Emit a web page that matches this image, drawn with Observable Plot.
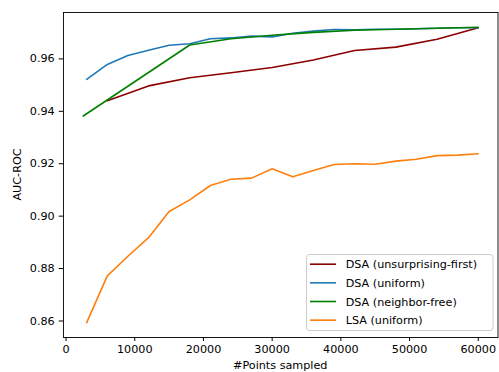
<!DOCTYPE html>
<html>
<head>
<meta charset="utf-8">
<script src="https://cdn.jsdelivr.net/npm/d3@7"></script>
<script src="https://cdn.jsdelivr.net/npm/@observablehq/plot@0.6"></script>
<style>
  html, body { margin: 0; padding: 0; background: #fff; }
  #chart { width: 499px; height: 372px; overflow: hidden; }
</style>
</head>
<body>
<div id="chart"></div>
<script>
const seriesNames = ["DSA (unsurprising-first)", "DSA (uniform)", "DSA (neighbor-free)", "LSA (uniform)"];
const seriesColors = ["#8b0000", "#1f77b4", "#008000", "#ff7f0e"];

const xUnsurprising = [6000, 12000, 18000, 24000, 30000, 36000, 42000, 48000, 54000, 60000];
const yUnsurprising = [0.9440, 0.9497, 0.9528, 0.9547, 0.9567, 0.9596, 0.9632, 0.9645, 0.9675, 0.9719];

const xUniform = [3000, 6000, 9000, 12000, 15000, 18000, 21000, 24000, 27000, 30000, 33000, 36000, 39000, 42000, 45000, 48000, 51000, 54000, 57000, 60000];
const yUniform = [0.9522, 0.9579, 0.9613, 0.9633, 0.9652, 0.9658, 0.9677, 0.9680, 0.9687, 0.9684, 0.9698, 0.9706, 0.9712, 0.9711, 0.9713, 0.9713, 0.9715, 0.9717, 0.9719, 0.9719];

const xNeighborFree = [2500, 18000, 24000, 30000, 36000, 42000, 48000, 54000, 60000];
const yNeighborFree = [0.9382, 0.9653, 0.9677, 0.9690, 0.9701, 0.9709, 0.9713, 0.9717, 0.9721];

const xLSA = [3000, 6000, 9000, 12000, 15000, 18000, 21000, 24000, 27000, 30000, 33000, 36000, 39000, 42000, 45000, 48000, 51000, 54000, 57000, 60000];
const yLSA = [0.8594, 0.8772, 0.8847, 0.8918, 0.9018, 0.9062, 0.9117, 0.9141, 0.9145, 0.9181, 0.9150, 0.9174, 0.9197, 0.9200, 0.9198, 0.9210, 0.9217, 0.9231, 0.9233, 0.9238];

const xTicks = [0, 10000, 20000, 30000, 40000, 50000, 60000];
const yTicks = [0.86, 0.88, 0.90, 0.92, 0.94, 0.96];

const xLabel = "#Points sampled";
const yLabel = "AUC-ROC";

const seriesXs = [xUnsurprising, xUniform, xNeighborFree, xLSA];
const seriesYs = [yUnsurprising, yUniform, yNeighborFree, yLSA];

const rows = [];
seriesNames.forEach((name, i) => {
  seriesXs[i].forEach((x, j) => rows.push({series: name, x, y: seriesYs[i][j]}));
});

const W = 499, H = 372;
const mL = 63, mR = 1.5, mT = 12, mB = 35;
const font = "'DejaVu Sans', sans-serif";
const fs = 11.2;

const plot = Plot.plot({
  width: W,
  height: H,
  marginLeft: mL,
  marginRight: mR,
  marginTop: mT,
  marginBottom: mB,
  style: {fontFamily: font, fontSize: fs + "px", background: "#fff", color: "#000", overflow: "visible"},
  x: {domain: [-375, 62875], ticks: xTicks, tickFormat: d => String(d), label: null},
  y: {domain: [0.8537, 0.9777], ticks: yTicks, tickFormat: d3.format(".2f"), label: null},
  color: {domain: seriesNames, range: seriesColors},
  marks: [
    Plot.line(rows, {x: "x", y: "y", z: "series", stroke: "series", strokeWidth: 1.6, curve: "linear"}),
    Plot.axisX({ticks: xTicks, tickFormat: d => String(d), tickSize: 4, tickPadding: 3.5, label: null, fontSize: fs}),
    Plot.axisY({ticks: yTicks, tickFormat: d3.format(".2f"), tickSize: 4.3, tickPadding: 4.5, label: null, fontSize: fs}),
    Plot.frame({stroke: "#000", strokeWidth: 0.9})
  ]
});

document.getElementById("chart").appendChild(plot);

const svg = d3.select(plot);

// axis labels
svg.append("text")
  .attr("x", mL + (W - mL - mR) / 2)
  .attr("y", H - 3.2)
  .attr("text-anchor", "middle")
  .style("font-family", font)
  .style("font-size", fs + "px")
  .style("fill", "#000")
  .text(xLabel);

svg.append("text")
  .attr("transform", `translate(20.5, ${mT + (H - mT - mB) / 2}) rotate(-90)`)
  .attr("text-anchor", "middle")
  .style("font-family", font)
  .style("font-size", fs + "px")
  .style("fill", "#000")
  .text(yLabel);

// legend (lower right)
const lg = svg.append("g").attr("transform", "translate(306,254)");
lg.append("rect")
  .attr("x", 0.5).attr("y", 0.5).attr("width", 186.5).attr("height", 76)
  .attr("rx", 3).attr("ry", 3)
  .style("fill", "#ffffff").style("fill-opacity", 0.8)
  .style("stroke", "#cccccc").style("stroke-width", 1);
seriesNames.forEach((name, i) => {
  const yy = 10.2 + i * 18.65;
  lg.append("line")
    .attr("x1", 4).attr("x2", 30).attr("y1", yy).attr("y2", yy)
    .style("stroke", seriesColors[i]).style("stroke-width", 1.6);
  lg.append("text")
    .attr("x", 39.7).attr("y", yy)
    .attr("dy", "0.36em")
    .attr("text-anchor", "start")
    .style("text-anchor", "start")
    .style("font-family", font)
    .style("font-size", fs + "px")
    .style("fill", "#000")
    .text(name);
});
</script>
</body>
</html>
